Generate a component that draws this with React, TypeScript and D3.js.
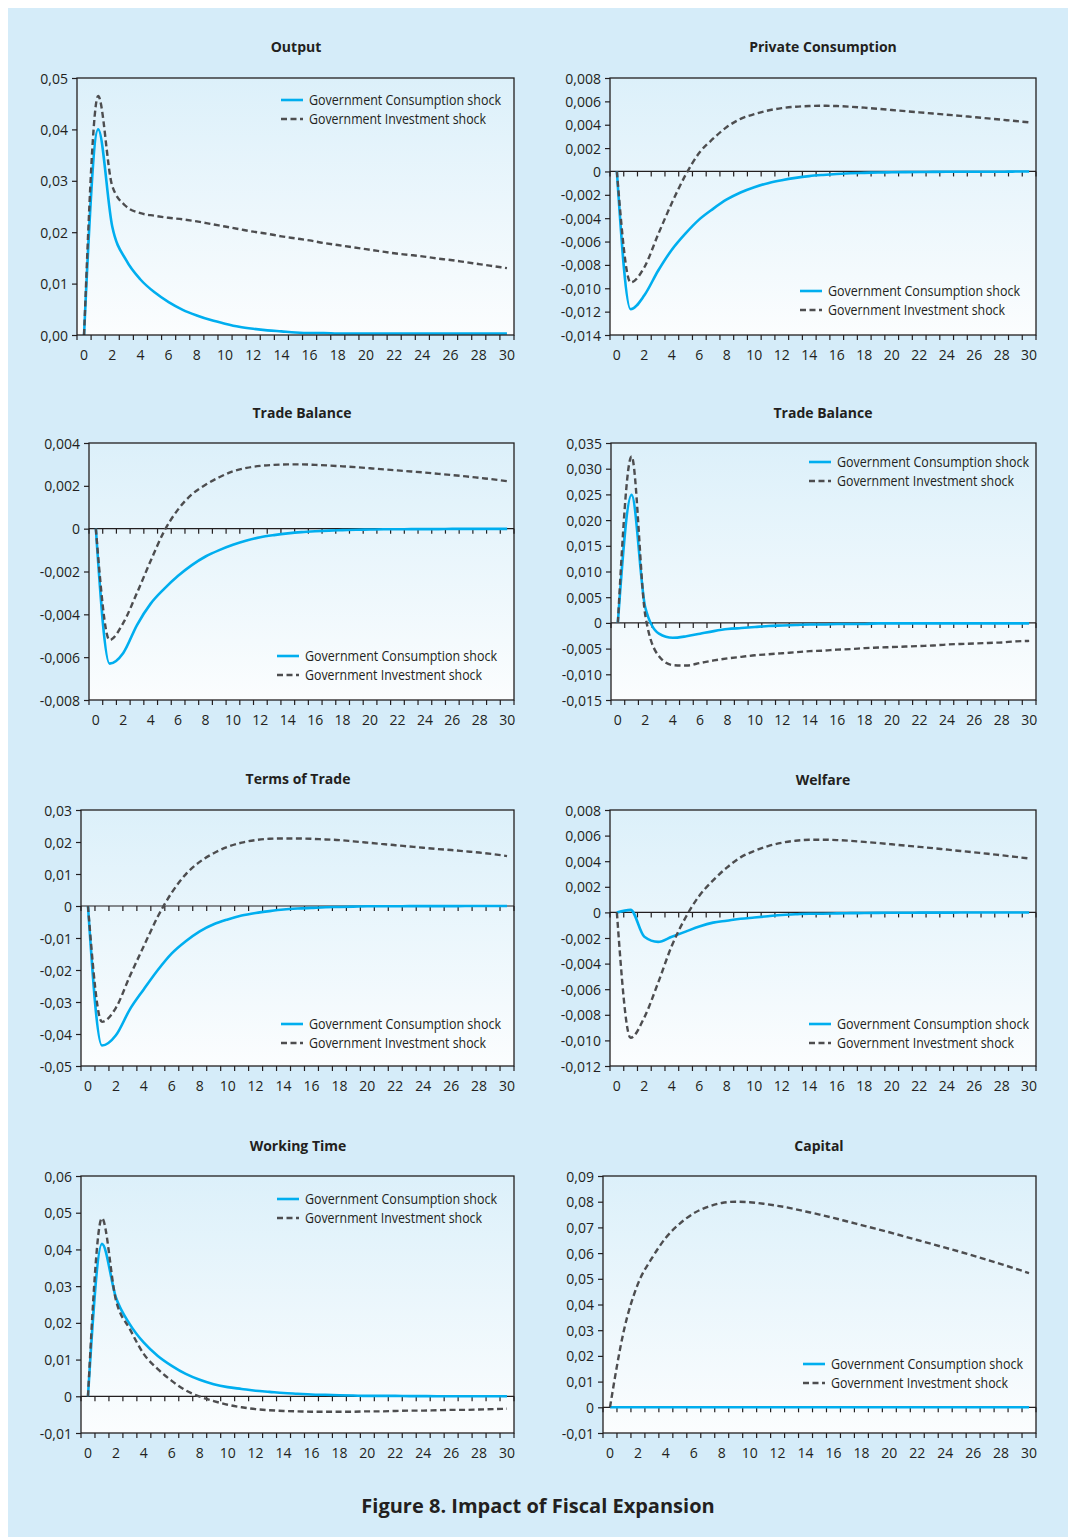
import * as d3 from "d3";
import { useEffect, useRef } from "react";

// quarters after the shock
const periods = [0, 1, 2, 3, 4, 5, 6, 7, 8, 9, 10, 11, 12, 13, 14, 15, 16, 17, 18, 19, 20, 21, 22, 23, 24, 25, 26, 27, 28, 29, 30];
const xLabels = [0, 2, 4, 6, 8, 10, 12, 14, 16, 18, 20, 22, 24, 26, 28, 30];

const seriesNames = ["Government Consumption shock", "Government Investment shock"];

const outputCons = [0, 0.04, 0.0211, 0.0145, 0.0108, 0.0083, 0.0064, 0.0049, 0.0038, 0.0029, 0.0022, 0.0016, 0.0012, 0.0009, 0.0007, 0.0005, 0.0004, 0.0004, 0.0003, 0.0003, 0.0003, 0.0003, 0.0003, 0.0003, 0.0003, 0.0003, 0.0003, 0.0003, 0.0003, 0.0003, 0.0003];
const outputInv = [0, 0.0465, 0.029, 0.025, 0.0237, 0.0232, 0.0228, 0.0225, 0.0221, 0.0216, 0.0211, 0.0206, 0.0201, 0.0197, 0.0192, 0.0188, 0.0184, 0.0179, 0.0175, 0.0171, 0.0167, 0.0163, 0.0159, 0.0156, 0.0153, 0.0149, 0.0146, 0.0142, 0.0138, 0.0134, 0.013];
const outputTicks = [0, 0.01, 0.02, 0.03, 0.04, 0.05];

const privConsCons = [0, -0.0118, -0.0106, -0.0085, -0.0067, -0.0053, -0.0041, -0.0032, -0.0024, -0.0018, -0.00135, -0.001, -0.00075, -0.00055, -0.0004, -0.0003, -0.00022, -0.00016, -0.00012, -0.00009, -0.00007, -0.00006, -0.00005, -0.00004, -0.00003, -0.00003, -0.00002, -0.00002, -0.00002, -0.00001, -0.00001];
const privConsInv = [0, -0.0095, -0.0082, -0.0054, -0.0027, -0.0003, 0.0016, 0.0028, 0.0038, 0.0045, 0.0049, 0.00522, 0.00542, 0.00554, 0.0056, 0.00562, 0.0056, 0.00554, 0.00546, 0.00536, 0.00526, 0.00516, 0.00506, 0.00496, 0.00486, 0.00476, 0.00465, 0.00454, 0.00443, 0.00432, 0.0042];
const privConsTicks = [-0.014, -0.012, -0.01, -0.008, -0.006, -0.004, -0.002, 0, 0.002, 0.004, 0.006, 0.008];

const tradeACons = [0, -0.0063, -0.0058, -0.0045, -0.0035, -0.0028, -0.0022, -0.0017, -0.0013, -0.001, -0.00075, -0.00055, -0.0004, -0.0003, -0.00022, -0.00016, -0.00012, -0.00009, -0.00007, -0.00005, -0.00004, -0.00003, -0.00003, -0.00002, -0.00002, -0.00002, -0.00001, -0.00001, -0.00001, -0.00001, -0.00001];
const tradeAInv = [0, -0.0052, -0.0044, -0.003, -0.0015, -0.0001, 0.0009, 0.0016, 0.00205, 0.0024, 0.00268, 0.00284, 0.00293, 0.00298, 0.003, 0.003, 0.00298, 0.00295, 0.00291, 0.00287, 0.00282, 0.00277, 0.00272, 0.00267, 0.00262, 0.00256, 0.0025, 0.00244, 0.00237, 0.0023, 0.00222];
const tradeATicks = [-0.008, -0.006, -0.004, -0.002, 0, 0.002, 0.004];

const tradeBCons = [0, 0.0249, 0.003, -0.0021, -0.0029, -0.0026, -0.0021, -0.0016, -0.0012, -0.001, -0.0008, -0.0006, -0.0005, -0.0004, -0.0003, -0.0003, -0.0002, -0.0002, -0.0002, -0.0001, -0.0001, -0.0001, -0.0001, -0.0001, -0.0001, -0.0001, -0.0001, -0.0001, -0.0001, -0.0001, -0.0001];
const tradeBInv = [0, 0.0324, 0.0015, -0.0065, -0.0082, -0.0083, -0.0078, -0.0073, -0.0069, -0.0066, -0.0063, -0.0061, -0.0059, -0.0057, -0.0055, -0.0054, -0.0052, -0.0051, -0.0049, -0.0048, -0.0047, -0.0046, -0.0045, -0.0044, -0.0042, -0.0041, -0.004, -0.0039, -0.0038, -0.0036, -0.0035];
const tradeBTicks = [-0.015, -0.01, -0.005, 0, 0.005, 0.01, 0.015, 0.02, 0.025, 0.03, 0.035];

const totCons = [0, -0.0436, -0.0404, -0.0323, -0.026, -0.02, -0.0148, -0.011, -0.0079, -0.0057, -0.0042, -0.003, -0.0022, -0.0016, -0.0011, -0.0008, -0.0006, -0.0004, -0.0003, -0.0002, -0.0001, -0.0001, -0.0001, -0.00005, -0.00005, -0.00003, -0.00003, -0.00002, -0.00002, -0.00001, -0.00001];
const totInv = [0, -0.0362, -0.0318, -0.0219, -0.0125, -0.0033, 0.0042, 0.0099, 0.0138, 0.0165, 0.0185, 0.0198, 0.0206, 0.021, 0.0211, 0.0211, 0.021, 0.0208, 0.0206, 0.0202, 0.0198, 0.0194, 0.019, 0.0186, 0.0182, 0.0178, 0.0175, 0.0171, 0.0167, 0.0162, 0.0156];
const totTicks = [-0.05, -0.04, -0.03, -0.02, -0.01, 0, 0.01, 0.02, 0.03];

const welfareCons = [0, 0.0002, -0.0019, -0.0023, -0.0019, -0.0015, -0.0011, -0.0008, -0.00065, -0.0005, -0.0004, -0.0003, -0.0002, -0.00015, -0.0001, -0.0001, -0.00008, -0.00006, -0.00005, -0.00004, -0.00003, -0.00003, -0.00002, -0.00002, -0.00002, -0.00001, -0.00001, -0.00001, -0.00001, -0.00001, -0.00001];
const welfareInv = [0, -0.0098, -0.0082, -0.0055, -0.0026, -0.0004, 0.0013, 0.0025, 0.0035, 0.0043, 0.0048, 0.00518, 0.00544, 0.0056, 0.00567, 0.00568, 0.00565, 0.00559, 0.00551, 0.00542, 0.00532, 0.00522, 0.00512, 0.00502, 0.00491, 0.0048, 0.00469, 0.00458, 0.00446, 0.00434, 0.00421];
const welfareTicks = [-0.012, -0.01, -0.008, -0.006, -0.004, -0.002, 0, 0.002, 0.004, 0.006, 0.008];

const workCons = [0, 0.0415, 0.0269, 0.0196, 0.0146, 0.011, 0.0083, 0.0061, 0.0045, 0.0033, 0.0025, 0.002, 0.0015, 0.0012, 0.0009, 0.0007, 0.0005, 0.0004, 0.0003, 0.0002, 0.0001, 0.0001, 0.0001, 0.00005, 0.00005, 0.00003, 0.00003, 0.00002, 0.00002, 0.00001, 0.00001];
const workInv = [0, 0.0485, 0.0262, 0.0183, 0.0115, 0.0074, 0.0042, 0.0016, -0.0001, -0.0013, -0.0023, -0.003, -0.0035, -0.0038, -0.004, -0.0041, -0.0042, -0.0042, -0.0042, -0.0042, -0.0041, -0.0041, -0.004, -0.0039, -0.0039, -0.0038, -0.0037, -0.0037, -0.0036, -0.0035, -0.0034];
const workTicks = [-0.01, 0, 0.01, 0.02, 0.03, 0.04, 0.05, 0.06];

const capitalCons = [0, 0, 0, 0, 0, 0, 0, 0, 0, 0, 0, 0, 0, 0, 0, 0, 0, 0, 0, 0, 0, 0, 0, 0, 0, 0, 0, 0, 0, 0, 0];
const capitalInv = [0, 0.03, 0.048, 0.058, 0.066, 0.0715, 0.0755, 0.078, 0.0795, 0.08, 0.0798, 0.0792, 0.0784, 0.0774, 0.0762, 0.075, 0.0737, 0.0723, 0.0709, 0.0695, 0.0681, 0.0666, 0.0651, 0.0636, 0.0621, 0.0606, 0.059, 0.0574, 0.0557, 0.054, 0.0522];
const capitalTicks = [-0.01, 0, 0.01, 0.02, 0.03, 0.04, 0.05, 0.06, 0.07, 0.08, 0.09];

const panels = [
  { title: "Output", cons: outputCons, inv: outputInv, ticks: outputTicks, dec: 2, zero: "0,00" },
  { title: "Private Consumption", cons: privConsCons, inv: privConsInv, ticks: privConsTicks, dec: 3, zero: "0" },
  { title: "Trade Balance", cons: tradeACons, inv: tradeAInv, ticks: tradeATicks, dec: 3, zero: "0" },
  { title: "Trade Balance", cons: tradeBCons, inv: tradeBInv, ticks: tradeBTicks, dec: 3, zero: "0" },
  { title: "Terms of Trade", cons: totCons, inv: totInv, ticks: totTicks, dec: 2, zero: "0" },
  { title: "Welfare", cons: welfareCons, inv: welfareInv, ticks: welfareTicks, dec: 3, zero: "0" },
  { title: "Working Time", cons: workCons, inv: workInv, ticks: workTicks, dec: 2, zero: "0" },
  { title: "Capital", cons: capitalCons, inv: capitalInv, ticks: capitalTicks, dec: 2, zero: "0" },
];

// plot boxes + title / legend anchors (page pixels)
const boxes = [
  { l: 77, r: 514, t: 78, b: 335, tx: 296, ty: 47, lx: 281, ly: 100 },
  { l: 610, r: 1036, t: 78, b: 335, tx: 823, ty: 47, lx: 800, ly: 291 },
  { l: 89, r: 514, t: 443, b: 700, tx: 302, ty: 413, lx: 277, ly: 656 },
  { l: 611, r: 1036, t: 443, b: 700, tx: 823, ty: 413, lx: 809, ly: 462 },
  { l: 81, r: 514, t: 810, b: 1066, tx: 298, ty: 779, lx: 281, ly: 1024 },
  { l: 610, r: 1036, t: 810, b: 1066, tx: 823, ty: 780, lx: 809, ly: 1024 },
  { l: 81, r: 514, t: 1176, b: 1433, tx: 298, ty: 1146, lx: 277, ly: 1199 },
  { l: 603, r: 1036, t: 1176, b: 1433, tx: 819, ty: 1146, lx: 803, ly: 1364 },
];

const FONT = "'Open Sans', 'Noto Sans', sans-serif";
const INK = "#231f20";
const CYAN = "#00aeef";
const GREY = "#4d4d4f";

const App = () => {
  const ref = useRef<SVGSVGElement>(null);

  useEffect(() => {
    const svg = d3.select(ref.current);
    svg.selectAll("*").remove();

    const grad = svg
      .append("defs")
      .append("linearGradient")
      .attr("id", "plotBg")
      .attr("x1", 0)
      .attr("y1", 0)
      .attr("x2", 0)
      .attr("y2", 1);
    grad.append("stop").attr("offset", "0%").attr("stop-color", "#dcf0fa");
    grad.append("stop").attr("offset", "100%").attr("stop-color", "#fbfdfe");

    svg.append("rect").attr("x", 8).attr("y", 8).attr("width", 1060).attr("height", 1529).attr("fill", "#d5ecf9");

    panels.forEach((p, i) => {
      const box = boxes[i];
      const g = svg.append("g");

      const x = d3.scaleBand<number>().domain(periods).range([box.l, box.r]);
      const bw = x.bandwidth();
      const y = d3
        .scaleLinear()
        .domain([p.ticks[0], p.ticks[p.ticks.length - 1]])
        .range([box.b, box.t]);

      const fmt = (v: number) =>
        v === 0 ? p.zero : d3.format(`.${p.dec}f`)(v).replace("\u2212", "-").replace(".", ",");

      g.append("rect")
        .attr("x", box.l)
        .attr("y", box.t)
        .attr("width", box.r - box.l)
        .attr("height", box.b - box.t)
        .attr("fill", "url(#plotBg)");

      // title
      g.append("text")
        .attr("x", box.tx)
        .attr("y", box.ty + 5)
        .attr("text-anchor", "middle")
        .attr("font-family", FONT)
        .attr("font-weight", 700)
        .attr("font-size", 14)
        .attr("fill", INK)
        .text(p.title);

      // y axis
      const yAxis = g
        .append("g")
        .attr("transform", `translate(${box.l},0)`)
        .call(d3.axisLeft(y).tickValues(p.ticks).tickSize(5).tickSizeOuter(0).tickPadding(4).tickFormat(fmt as any));
      yAxis.select(".domain").remove();
      yAxis.selectAll("line").attr("stroke", INK).attr("stroke-width", 1.2);
      yAxis
        .selectAll("text")
        .attr("font-family", FONT)
        .attr("font-size", 14)
        .attr("fill", INK)
        .attr("dy", "0.36em");

      // category ticks, at the zero line and at the bottom edge
      const bounds = periods.map((d) => x(d)!).concat([box.r]);
      const tickRows = y(0) < box.b - 1 ? [y(0), box.b] : [box.b];
      tickRows.forEach((ty) => {
        g.append("g")
          .selectAll("line")
          .data(bounds)
          .join("line")
          .attr("x1", (d) => d)
          .attr("x2", (d) => d)
          .attr("y1", ty)
          .attr("y2", ty + 5)
          .attr("stroke", INK)
          .attr("stroke-width", 1.2);
      });

      g.append("g")
        .selectAll("text")
        .data(xLabels)
        .join("text")
        .attr("x", (d) => x(d)! + bw / 2)
        .attr("y", box.b + 25)
        .attr("text-anchor", "middle")
        .attr("font-family", FONT)
        .attr("font-size", 14)
        .attr("fill", INK)
        .text((d) => d);

      // zero line
      if (y(0) < box.b - 1) {
        g.append("line")
          .attr("x1", box.l)
          .attr("x2", box.r)
          .attr("y1", y(0))
          .attr("y2", y(0))
          .attr("stroke", INK)
          .attr("stroke-width", 1.2);
      }

      const line = d3
        .line<number>()
        .x((_, j) => x(periods[j])! + bw / 2)
        .y((d) => y(d))
        .curve(d3.curveMonotoneX);

      g.append("path")
        .attr("d", line(p.cons))
        .attr("fill", "none")
        .attr("stroke", CYAN)
        .attr("stroke-width", 2.6);

      g.append("path")
        .attr("d", line(p.inv))
        .attr("fill", "none")
        .attr("stroke", GREY)
        .attr("stroke-width", 2.4)
        .attr("stroke-dasharray", "6 3.5");

      // frame
      g.append("rect")
        .attr("x", box.l)
        .attr("y", box.t)
        .attr("width", box.r - box.l)
        .attr("height", box.b - box.t)
        .attr("fill", "none")
        .attr("stroke", INK)
        .attr("stroke-width", 1.3);

      // legend
      seriesNames.forEach((name, k) => {
        const ly = box.ly + k * 19;
        g.append("line")
          .attr("x1", box.lx)
          .attr("x2", box.lx + 22)
          .attr("y1", ly)
          .attr("y2", ly)
          .attr("stroke", k === 0 ? CYAN : GREY)
          .attr("stroke-width", k === 0 ? 2.6 : 2.4)
          .attr("stroke-dasharray", k === 0 ? null : "6 3.5");
        g.append("text")
          .attr("x", box.lx + 28)
          .attr("y", ly + 5)
          .attr("font-family", FONT)
          .attr("font-size", 14)
          .attr("fill", INK)
          .attr("textLength", k === 0 ? 192 : 177)
          .attr("lengthAdjust", "spacingAndGlyphs")
          .text(name);
      });
    });

    svg
      .append("text")
      .attr("x", 538)
      .attr("y", 1513)
      .attr("text-anchor", "middle")
      .attr("font-family", FONT)
      .attr("font-weight", 700)
      .attr("font-size", 20)
      .attr("fill", INK)
      .text("Figure 8. Impact of Fiscal Expansion");
  }, []);

  return (
    <svg
      ref={ref}
      width={1068}
      height={1537}
      style={{ position: "absolute", left: 0, top: 0, display: "block" }}
    />
  );
};

export default App;
